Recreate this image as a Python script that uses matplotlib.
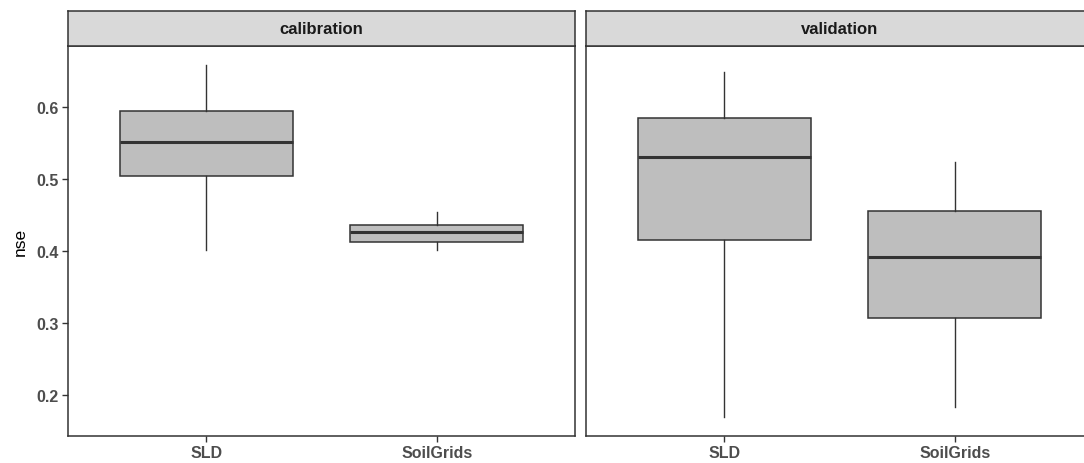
import matplotlib
matplotlib.use("Agg")
import matplotlib.pyplot as plt

# ── Box summaries per dataset (lower whisker, Q1, median, Q3, upper whisker)
PANELS   = ["calibration", "validation"]
SOURCES  = ["SLD", "SoilGrids"]

CAL_WHISLO = [0.402, 0.401]
CAL_Q1     = [0.504, 0.413]
CAL_MED    = [0.551, 0.427]
CAL_Q3     = [0.595, 0.4365]
CAL_WHISHI = [0.659, 0.454]

VAL_WHISLO = [0.170, 0.183]
VAL_Q1     = [0.415, 0.3065]
VAL_MED    = [0.531, 0.391]
VAL_Q3     = [0.5847, 0.455]
VAL_WHISHI = [0.649, 0.524]

Y_TICKS = [0.2, 0.3, 0.4, 0.5, 0.6]

plt.rcParams["font.family"] = ["Liberation Sans", "DejaVu Sans"]

W, H = 1084, 464
fig = plt.figure(figsize=(W / 100, H / 100), dpi=100)
fig.patch.set_facecolor("white")

EDGE = "#333333"
FILL = "#BEBEBE"


def make_stats(lo, q1, med, q3, hi):
    return [dict(whislo=a, q1=b, med=c, q3=d, whishi=e, fliers=[])
            for a, b, c, d, e in zip(lo, q1, med, q3, hi)]


stats = {
    "calibration": make_stats(CAL_WHISLO, CAL_Q1, CAL_MED, CAL_Q3, CAL_WHISHI),
    "validation":  make_stats(VAL_WHISLO, VAL_Q1, VAL_MED, VAL_Q3, VAL_WHISHI),
}

# panel positions in pixels: left edge, width; shared bottom/top
panel_px = [(68.3, 506.7), (585.8, 507.5)]
bottom_px, top_px, strip_top_px = 436.7, 47.3, 12.3

for i, (name, (x0, w)) in enumerate(zip(PANELS, panel_px)):
    ax = fig.add_axes([x0 / W, (H - bottom_px) / H, w / W, (bottom_px - top_px) / H])
    ax.bxp(stats[name], positions=[1, 2], widths=0.75, patch_artist=True,
           showcaps=False, showfliers=False,
           boxprops=dict(facecolor=FILL, edgecolor=EDGE, linewidth=1.1),
           medianprops=dict(color=EDGE, linewidth=2.2, solid_capstyle="butt"),
           whiskerprops=dict(color=EDGE, linewidth=1.0))
    ax.set_xlim(0.4, 2.6)
    ax.set_ylim(0.1435, 0.6843)
    ax.set_xticks([1, 2])
    ax.set_xticklabels(SOURCES, fontsize=11.5, fontweight="bold", color="#4D4D4D")
    ax.set_yticks(Y_TICKS)
    if i == 0:
        ax.set_yticklabels([f"{v:.1f}" for v in Y_TICKS], fontsize=11.5,
                           fontweight="bold", color="#4D4D4D")
        ax.set_ylabel("nse", fontsize=12.5, color="black", labelpad=6)
    else:
        ax.tick_params(axis="y", left=False, labelleft=False)
    ax.tick_params(length=4, width=1.0, color=EDGE, pad=3)
    for sp in ax.spines.values():
        sp.set_color(EDGE)
        sp.set_linewidth(1.1)

    # facet strip above each panel
    sax = fig.add_axes([x0 / W, (H - top_px) / H, w / W, (top_px - strip_top_px) / H])
    sax.set_facecolor("#D9D9D9")
    sax.set_xticks([])
    sax.set_yticks([])
    for sp in sax.spines.values():
        sp.set_color(EDGE)
        sp.set_linewidth(1.1)
    sax.text(0.5, 0.5, name, transform=sax.transAxes, ha="center", va="center",
             fontsize=12, fontweight="bold", color="#1A1A1A")

fig.savefig("out.png", dpi=100, facecolor=fig.get_facecolor())
